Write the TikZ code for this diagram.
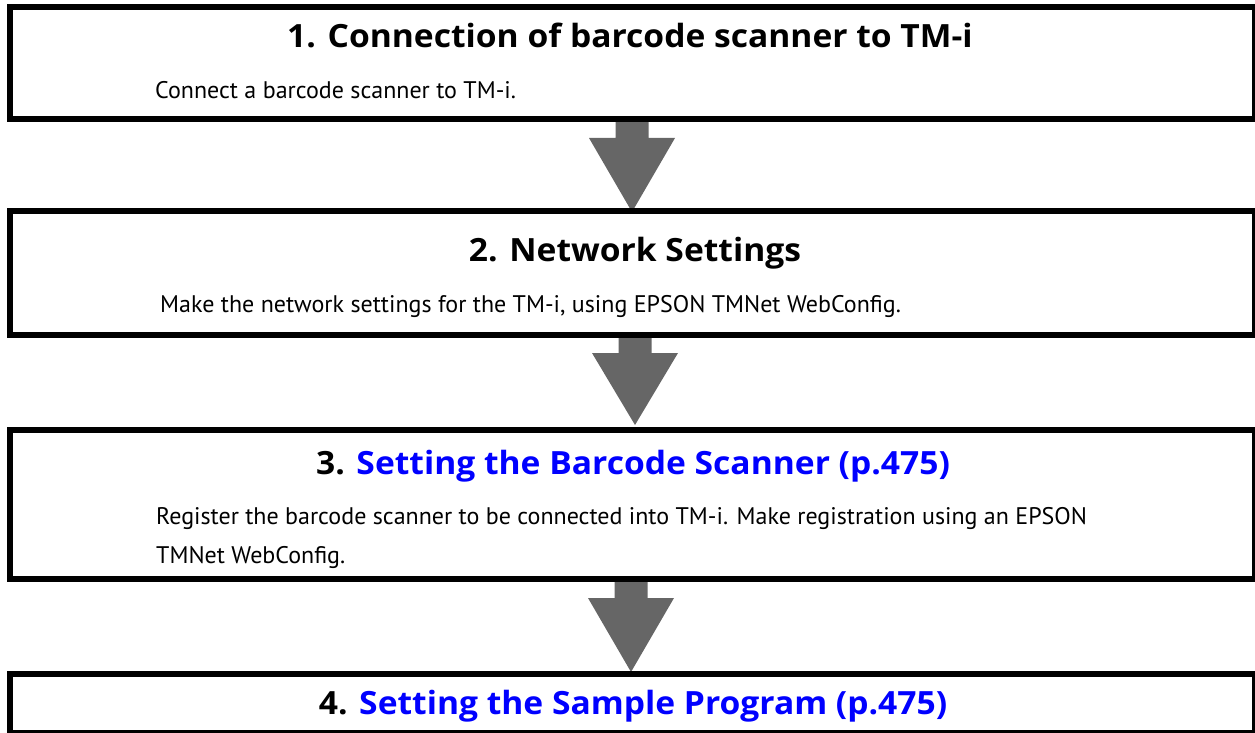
\documentclass[tikz,border=0pt]{standalone}
\usepackage{fontspec}
\setmainfont{PT Sans}
\newfontfamily\titlefont[FakeStretch=1.05]{Open Sans}
\usetikzlibrary{calc}
\definecolor{linkblue}{RGB}{0,0,255}
\definecolor{arrowgray}{RGB}{102,102,102}
\tikzset{
  stepbox/.style={draw=black, line width=6pt, minimum width=1245pt, inner sep=0pt, outer sep=0pt},
  titletext/.style={anchor=base, inner sep=0pt, font=\titlefont\fontsize{32}{36}\selectfont\bfseries},
  bodytext/.style={anchor=base west, inner sep=0pt, font=\fontsize{24}{28}\selectfont},
  flowarrow/.style={fill=arrowgray, draw=none}
}
\begin{document}
\begin{tikzpicture}[x=1pt,y=-1pt]
\useasboundingbox (0,0) rectangle (1255,733);
% arrows (drawn first, under box borders)
\coordinate (t1) at (632,212);
\coordinate (t2) at (635,425);
\coordinate (t3) at (631,672);
\fill[flowarrow] (615.5,119) -- (615.5,138) -- (589,138) -- (t1) -- (675,138) -- (648.5,138) -- (648.5,119) -- cycle;
\fill[flowarrow] (618.5,334) -- (618.5,353) -- (592,353) -- (t2) -- (678,353) -- (651.5,353) -- (651.5,334) -- cycle;
\fill[flowarrow] (614.5,579) -- (614.5,598) -- (588,598) -- (t3) -- (674,598) -- (647.5,598) -- (647.5,579) -- cycle;
% boxes
\node[stepbox, minimum height=112pt] (b1) at (632.5,63) {};
\node[stepbox, minimum height=123.5pt] (b2) at (632.5,272.75) {};
\node[stepbox, minimum height=149.5pt] (b3) at (632.5,504.25) {};
\node[stepbox, minimum height=59pt] (b4) at (632.5,703.5) {};
% texts
\node[titletext] (h1) at (630,48) {1. Connection of barcode scanner to TM-i};
\node[bodytext] (d1) at (155,99) {Connect a barcode scanner to TM-i.};
\node[titletext] (h2) at (635,261) {2. Network Settings};
\node[bodytext] (d2) at (160,312) {Make the network settings for the TM-i, using EPSON TMNet WebConfig.};
\node[titletext] (h3) at (633,474) {3. \textcolor{linkblue}{Setting the Barcode Scanner (p.475)}};
\node[bodytext] (d3a) at (156,524) {Register the barcode scanner to be connected into TM-i. Make registration using an EPSON};
\node[bodytext] (d3b) at (156,563) {TMNet WebConfig.};
\node[titletext] (h4) at (633,714) {4. \textcolor{linkblue}{Setting the Sample Program (p.475)}};
\end{tikzpicture}
\end{document}
